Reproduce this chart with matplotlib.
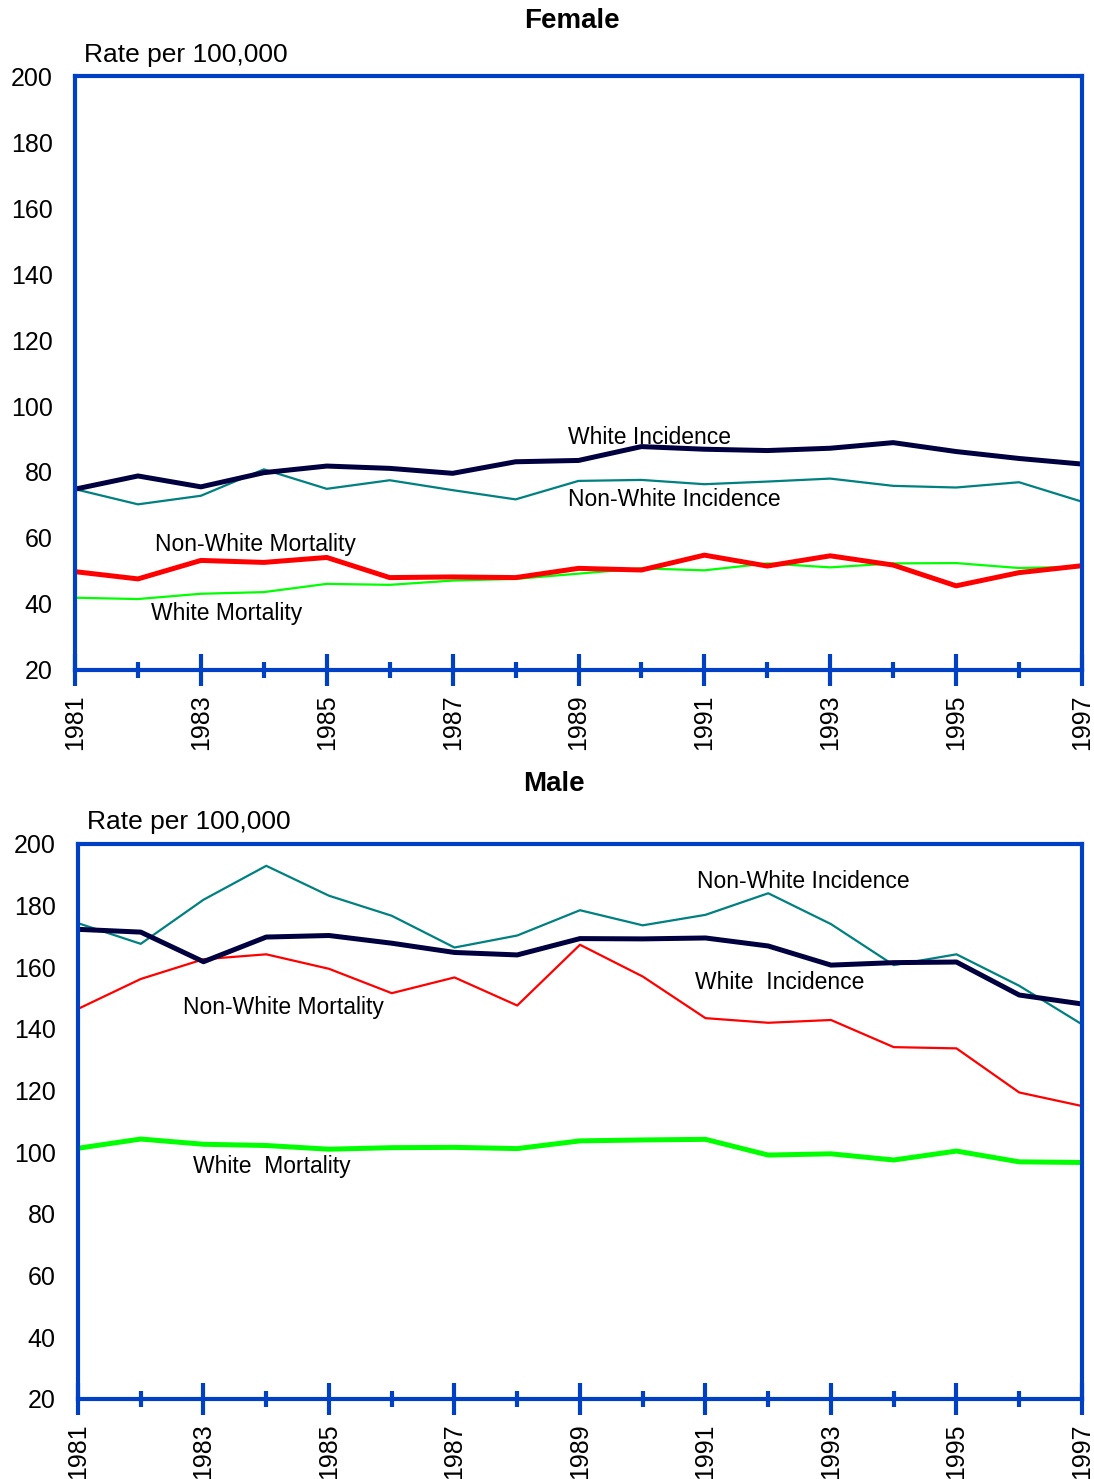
import matplotlib
matplotlib.use('Agg')
import matplotlib.pyplot as plt
from matplotlib.ticker import FixedLocator

plt.rcParams['font.family'] = ['Liberation Sans', 'DejaVu Sans']

years = list(range(1981, 1998))

# Female rates per 100,000
f_white_inc = [74.8, 78.8, 75.5, 79.8, 81.8, 81.1, 79.6, 83.1, 83.5, 87.7, 86.9, 86.5, 87.2, 88.9, 86.2, 84.1, 82.4]
f_nonwhite_inc = [74.8, 70.2, 72.8, 80.8, 74.9, 77.5, 74.5, 71.7, 77.3, 77.6, 76.3, 77.1, 78.0, 75.8, 75.3, 76.9, 71.0]
f_nonwhite_mort = [49.8, 47.6, 53.2, 52.6, 54.1, 48.0, 48.2, 48.0, 50.8, 50.3, 54.8, 51.5, 54.6, 51.8, 45.5, 49.5, 51.6]
f_white_mort = [41.9, 41.5, 43.1, 43.6, 46.1, 45.8, 47.1, 47.6, 49.2, 50.8, 50.2, 52.3, 51.1, 52.3, 52.4, 50.9, 51.3]

# Male rates per 100,000
m_white_inc = [172.3, 171.4, 161.8, 169.8, 170.3, 167.8, 164.8, 164.0, 169.3, 169.2, 169.5, 166.9, 160.7, 161.5, 161.7, 151.0, 148.1]
m_nonwhite_inc = [174.3, 167.6, 181.9, 192.9, 183.2, 176.7, 166.4, 170.3, 178.5, 173.6, 177.0, 184.0, 174.0, 160.7, 164.2, 154.0, 141.5]
m_nonwhite_mort = [146.5, 156.2, 162.6, 164.2, 159.5, 151.6, 156.7, 147.6, 167.3, 157.0, 143.5, 142.0, 142.9, 134.1, 133.7, 119.4, 115.0]
m_white_mort = [101.3, 104.3, 102.6, 102.2, 101.0, 101.5, 101.6, 101.2, 103.7, 104.0, 104.2, 99.1, 99.5, 97.5, 100.4, 96.9, 96.7]

major_years = [1981, 1983, 1985, 1987, 1989, 1991, 1993, 1995, 1997]
minor_years = [1982, 1984, 1986, 1988, 1990, 1992, 1994, 1996]
yticks = list(range(20, 201, 20))

BLUE = '#0040C4'
NAVY = '#000040'
TEAL = '#008080'
RED = '#FF0000'
GREEN = '#00FF00'


def setup_axes(ax):
    ax.set_xlim(1981, 1997)
    ax.set_ylim(20, 200)
    ax.set_yticks(yticks)
    ax.xaxis.set_major_locator(FixedLocator(major_years))
    ax.xaxis.set_minor_locator(FixedLocator(minor_years))
    ax.set_xticklabels([str(y) for y in major_years], rotation=90, va='top')
    for sp in ax.spines.values():
        sp.set_color(BLUE)
        sp.set_linewidth(3)
        sp.set_zorder(5)
    ax.tick_params(axis='x', which='major', direction='inout', length=23,
                   width=3, color=BLUE, labelsize=18, pad=6)
    ax.tick_params(axis='x', which='minor', direction='inout', length=11.5,
                   width=3, color=BLUE)
    ax.tick_params(axis='y', length=0, labelsize=18, pad=16)


fig = plt.figure(figsize=(10.94, 14.79), dpi=100)

# Female panel
ax1 = fig.add_axes([0.0686, 0.547, 0.9204, 0.4016])
ax1.plot(years, f_white_mort, color=GREEN, lw=1.6)
ax1.plot(years, f_nonwhite_inc, color=TEAL, lw=1.6)
ax1.plot(years, f_white_inc, color=NAVY, lw=3.6)
ax1.plot(years, f_nonwhite_mort, color=RED, lw=3.6)
setup_axes(ax1)
ax1.text(1988.83, 90.6, 'White Incidence', fontsize=16.5, va='center')
ax1.text(1988.83, 71.8, 'Non-White Incidence', fontsize=16.5, va='center')
ax1.text(1982.27, 57.9, 'Non-White Mortality', fontsize=16.5, va='center')
ax1.text(1982.21, 37.0, 'White Mortality', fontsize=16.5, va='center')
fig.text(572 / 1094, 1 - 21 / 1479, 'Female', fontsize=20, fontweight='bold',
         ha='center', va='center')
fig.text(84 / 1094, 1 - 55 / 1479, 'Rate per 100,000', fontsize=19,
         ha='left', va='center')

# Male panel
ax2 = fig.add_axes([0.0713, 0.0541, 0.9177, 0.3753])
ax2.plot(years, m_nonwhite_inc, color=TEAL, lw=1.6)
ax2.plot(years, m_nonwhite_mort, color=RED, lw=1.6)
ax2.plot(years, m_white_inc, color=NAVY, lw=3.6)
ax2.plot(years, m_white_mort, color=GREEN, lw=3.6)
setup_axes(ax2)
ax2.text(1990.86, 187.7, 'Non-White Incidence', fontsize=16.5, va='center')
ax2.text(1990.83, 154.9, 'White  Incidence', fontsize=16.5, va='center')
ax2.text(1982.67, 147.1, 'Non-White Mortality', fontsize=16.5, va='center')
ax2.text(1982.83, 95.3, 'White  Mortality', fontsize=16.5, va='center')
fig.text(554 / 1094, 1 - 784 / 1479, 'Male', fontsize=20, fontweight='bold',
         ha='center', va='center')
fig.text(87 / 1094, 1 - 822 / 1479, 'Rate per 100,000', fontsize=19,
         ha='left', va='center')

fig.savefig('out.png', dpi=100, facecolor='white')
